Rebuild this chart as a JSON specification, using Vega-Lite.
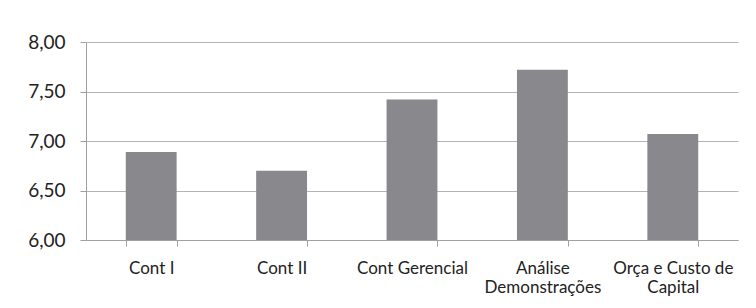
{
  "$schema": "https://vega.github.io/schema/vega-lite/v6.json",
  "autosize": "none",
  "width": 652,
  "height": 198,
  "padding": {"left": 86, "top": 42, "right": 18, "bottom": 68},
  "background": "white",
  "data": {
    "values": [
      {"disciplina": "Cont I", "media": 6.89},
      {"disciplina": "Cont II", "media": 6.70},
      {"disciplina": "Cont Gerencial", "media": 7.42},
      {"disciplina": "Análise\nDemonstrações", "media": 7.72},
      {"disciplina": "Orça e Custo de\nCapital", "media": 7.07}
    ]
  },
  "mark": {"type": "bar", "color": "#88888d", "clip": true},
  "encoding": {
    "x": {
      "field": "disciplina",
      "type": "nominal",
      "sort": null,
      "scale": {"paddingInner": 0.61, "paddingOuter": 0.305},
      "axis": {
        "title": null,
        "labelAngle": 0,
        "labelExpr": "split(datum.label, '\\n')",
        "labelFont": "Lato",
        "labelFontSize": 17,
        "labelColor": "#222222",
        "labelLineHeight": 19,
        "labelPadding": 14,
        "labelBaseline": "top",
        "tickBand": "extent",
        "tickSize": 6,
        "tickColor": "#a0a0a0",
        "domainColor": "#a0a0a0",
        "grid": false
      }
    },
    "y": {
      "field": "media",
      "type": "quantitative",
      "scale": {"domain": [6, 8], "zero": false, "nice": false},
      "axis": {
        "title": null,
        "values": [6, 6.5, 7, 7.5, 8],
        "labelExpr": "replace(format(datum.value, '.2f'), '.', ',')",
        "labelFont": "Lato",
        "labelFontSize": 19,
        "labelColor": "#222222",
        "labelPadding": 15,
        "tickSize": 6,
        "tickColor": "#a0a0a0",
        "domainColor": "#a0a0a0",
        "gridColor": "#b4b4b4",
        "gridWidth": 1
      }
    }
  },
  "config": {
    "view": {"stroke": null},
    "axis": {"domainWidth": 1, "tickWidth": 1}
  }
}
